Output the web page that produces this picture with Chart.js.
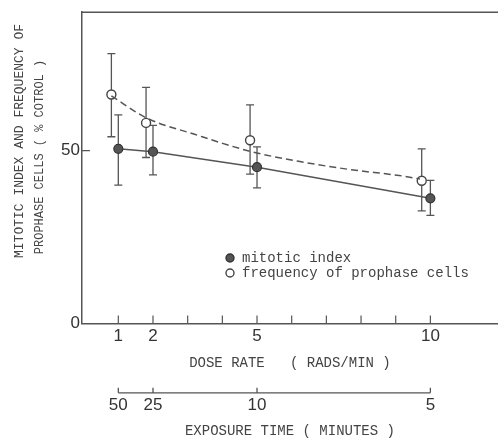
<!DOCTYPE html>
<html>
<head>
<meta charset="utf-8">
<script src="https://cdn.jsdelivr.net/npm/chart.js@4/dist/chart.umd.min.js"></script>
<style>
  body { margin: 0; background: #fff; }
  canvas { display: block; }
</style>
</head>
<body>
<canvas id="doseChart" width="498" height="441"></canvas>
<script>
// dose rate (rads/min) and values in % of control
const doseRate = [1, 2, 5, 10];
const mitoticIndex = [50.5, 49.7, 45.2, 36.2];
const mitoticHigh = [60.3, 57.3, 51.1, 41.4];
const mitoticLow = [40.0, 43.0, 39.2, 31.3];

// prophase points are drawn a little left of each dose rate in the original
const prophaseX = [0.8, 1.8, 4.8, 9.75];
const prophase = [66.2, 58.0, 53.0, 41.3];
const prophaseHigh = [78.0, 68.3, 63.2, 50.5];
const prophaseLow = [54.0, 48.0, 43.2, 32.6];

// dashed curve drawn through the prophase data
const fitX = [0.8, 1.8, 3.2, 4.8, 6.2, 7.7, 9.1, 9.7];
const fitY = [65.8, 59.5, 54.7, 49.8, 46.9, 44.5, 42.8, 41.8];

const doseTicks = [1, 2, 3, 4, 5, 6, 7, 8, 9, 10];
const doseLabeled = [1, 2, 5, 10];
const yTicks = [0, 50];
const exposureDose = [1, 2, 5, 10];
const exposureLabels = ['50', '25', '10', '5'];

const ink = '#555';
const mono = '"Liberation Mono", "Courier New", monospace';
const sans = '"Liberation Sans", Arial, sans-serif';

function pts(xs, ys) {
    return xs.map((x, i) => ({ x: x, y: ys[i] }));
}

const errorBars = {
    id: 'errorBars',
    beforeDatasetsDraw(chart) {
        const { ctx, scales: { x, y } } = chart;
        const sets = [
            [doseRate, mitoticLow, mitoticHigh],
            [prophaseX, prophaseLow, prophaseHigh]
        ];
        ctx.save();
        ctx.strokeStyle = ink;
        ctx.lineWidth = 1.3;
        sets.forEach(([xs, lo, hi]) => {
            xs.forEach((v, i) => {
                const px = x.getPixelForValue(v);
                const y1 = y.getPixelForValue(lo[i]);
                const y2 = y.getPixelForValue(hi[i]);
                ctx.beginPath();
                ctx.moveTo(px, y1); ctx.lineTo(px, y2);
                ctx.moveTo(px - 4, y1); ctx.lineTo(px + 4, y1);
                ctx.moveTo(px - 4, y2); ctx.lineTo(px + 4, y2);
                ctx.stroke();
            });
        });
        ctx.restore();
    }
};

const decorations = {
    id: 'decorations',
    afterDraw(chart) {
        const { ctx, chartArea: area, scales: { x, x2, y } } = chart;
        ctx.save();
        ctx.strokeStyle = ink;
        ctx.lineWidth = 1.5;

        // frame line along the top
        ctx.beginPath();
        ctx.moveTo(area.left, area.top);
        ctx.lineTo(area.right, area.top);
        ctx.stroke();

        // inward tick marks
        ctx.lineWidth = 1.2;
        ctx.beginPath();
        x.ticks.forEach(t => {
            const px = x.getPixelForValue(t.value);
            ctx.moveTo(px, area.bottom);
            ctx.lineTo(px, area.bottom - 8);
        });
        y.ticks.forEach(t => {
            if (t.value === 0) return;
            const py = y.getPixelForValue(t.value);
            ctx.moveTo(area.left, py);
            ctx.lineTo(area.left + 8, py);
        });
        ctx.stroke();

        // exposure time axis: line only between the end ticks
        const ay = x2.top + 1;
        ctx.lineWidth = 1.3;
        ctx.beginPath();
        ctx.moveTo(x.getPixelForValue(exposureDose[0]), ay);
        ctx.lineTo(x.getPixelForValue(exposureDose[exposureDose.length - 1]), ay);
        exposureDose.forEach(v => {
            const px = x.getPixelForValue(v);
            ctx.moveTo(px, ay);
            ctx.lineTo(px, ay - 5);
        });
        ctx.stroke();

        // y axis title, two rotated lines
        ctx.fillStyle = '#444';
        ctx.textAlign = 'center';
        ctx.textBaseline = 'middle';
        ctx.save();
        ctx.translate(20, 141);
        ctx.rotate(-Math.PI / 2);
        ctx.font = '13px ' + mono;
        ctx.fillText('MITOTIC INDEX AND FREQUENCY OF', 0, 0);
        ctx.restore();
        ctx.save();
        ctx.translate(40, 157);
        ctx.rotate(-Math.PI / 2);
        ctx.font = '12px ' + mono;
        ctx.fillText('PROPHASE CELLS ( % COTROL )', 0, 0);
        ctx.restore();

        // legend inside the plot
        const lx = 230, ly = 258;
        ctx.lineWidth = 1.4;
        ctx.beginPath();
        ctx.arc(lx, ly, 4, 0, Math.PI * 2);
        ctx.fillStyle = ink;
        ctx.fill();
        ctx.strokeStyle = '#333';
        ctx.stroke();
        ctx.beginPath();
        ctx.arc(lx, ly + 15, 4, 0, Math.PI * 2);
        ctx.fillStyle = '#fff';
        ctx.fill();
        ctx.strokeStyle = '#444';
        ctx.stroke();
        ctx.fillStyle = '#444';
        ctx.textAlign = 'left';
        ctx.font = '14px ' + mono;
        ctx.fillText('mitotic index', lx + 12, ly);
        ctx.fillText('frequency of prophase cells', lx + 12, ly + 15);
        ctx.restore();
    }
};

const axisBase = {
    type: 'linear',
    min: -0.05,
    max: 11.95,
    grid: { display: false, drawTicks: false }
};

new Chart(document.getElementById('doseChart').getContext('2d'), {
    type: 'scatter',
    data: {
        datasets: [
            {
                label: 'prophase trend',
                data: pts(fitX, fitY),
                showLine: true,
                borderColor: ink,
                borderWidth: 1.5,
                borderDash: [7, 4],
                pointRadius: 0,
                tension: 0.4,
                cubicInterpolationMode: 'monotone'
            },
            {
                label: 'mitotic index',
                data: pts(doseRate, mitoticIndex),
                showLine: true,
                borderColor: ink,
                borderWidth: 1.5,
                pointRadius: 4.5,
                pointBackgroundColor: ink,
                pointBorderColor: '#333',
                pointBorderWidth: 1.2
            },
            {
                label: 'frequency of prophase cells',
                data: pts(prophaseX, prophase),
                showLine: false,
                pointRadius: 4.5,
                pointBackgroundColor: '#fff',
                pointBorderColor: '#444',
                pointBorderWidth: 1.4
            }
        ]
    },
    options: {
        responsive: false,
        animation: false,
        layout: { autoPadding: false, padding: { left: 59, top: 9, right: 0, bottom: 0 } },
        plugins: {
            legend: { display: false },
            tooltip: { enabled: false }
        },
        scales: {
            x: {
                ...axisBase,
                position: 'bottom',
                border: { display: true, color: ink, width: 1.5 },
                afterBuildTicks: s => { s.ticks = doseTicks.map(v => ({ value: v })); },
                ticks: {
                    autoSkip: false,
                    maxRotation: 0,
                    padding: 3,
                    color: '#333',
                    font: { family: sans, size: 17 },
                    callback: v => doseLabeled.includes(v) ? String(v) : ''
                },
                title: {
                    display: true,
                    text: 'DOSE RATE   ( RADS/MIN )',
                    color: '#444',
                    font: { family: mono, size: 14 },
                    padding: { top: 5, bottom: 20 }
                }
            },
            x2: {
                ...axisBase,
                position: 'bottom',
                border: { display: false },
                afterBuildTicks: s => { s.ticks = exposureDose.map(v => ({ value: v })); },
                ticks: {
                    autoSkip: false,
                    maxRotation: 0,
                    padding: 3,
                    color: '#333',
                    font: { family: sans, size: 17 },
                    callback: (v, i) => exposureLabels[i]
                },
                title: {
                    display: true,
                    text: 'EXPOSURE TIME ( MINUTES )',
                    color: '#444',
                    font: { family: mono, size: 14 },
                    padding: { top: 5, bottom: 1 }
                }
            },
            y: {
                type: 'linear',
                min: 0,
                max: 90,
                grid: { display: false, drawTicks: false },
                border: { display: true, color: ink, width: 1.5 },
                afterBuildTicks: s => { s.ticks = yTicks.map(v => ({ value: v })); },
                ticks: {
                    padding: 2,
                    color: '#333',
                    font: { family: sans, size: 17 }
                }
            }
        }
    },
    plugins: [errorBars, decorations]
});
</script>
</body>
</html>
